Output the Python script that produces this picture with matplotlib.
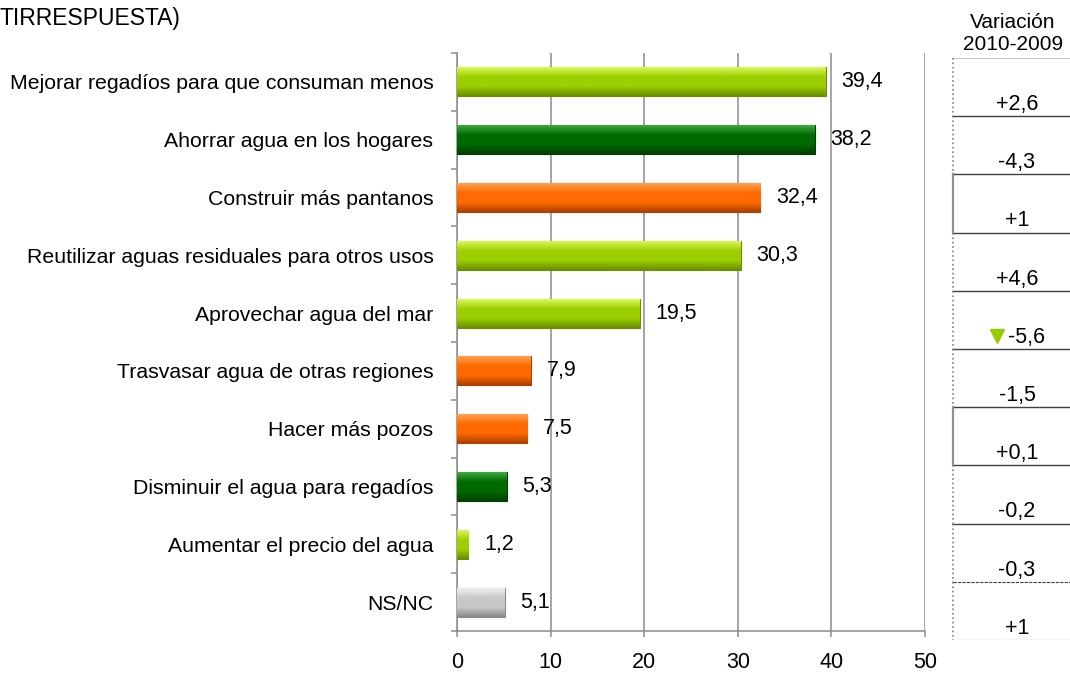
import numpy as np
import matplotlib
matplotlib.use("Agg")
import matplotlib.pyplot as plt
from matplotlib.colors import LinearSegmentedColormap

plt.rcParams['font.family'] = ['Liberation Sans', 'DejaVu Sans']

categories = [
    "Mejorar regadíos para que consuman menos",
    "Ahorrar agua en los hogares",
    "Construir más pantanos",
    "Reutilizar aguas residuales para otros usos",
    "Aprovechar agua del mar",
    "Trasvasar agua de otras regiones",
    "Hacer más pozos",
    "Disminuir el agua para regadíos",
    "Aumentar el precio del agua",
    "NS/NC",
]
values = [39.4, 38.2, 32.4, 30.3, 19.5, 7.9, 7.5, 5.3, 1.2, 5.1]
changes = ["+2,6", "-4,3", "+1", "+4,6", "-5,6", "-1,5", "+0,1", "-0,2", "-0,3", "+1"]
groups = ["lima", "verde", "naranja", "lima", "lima", "naranja", "naranja", "verde", "lima", "gris"]
xticks = [0, 10, 20, 30, 40, 50]

palette = {
    "lima": ("#dcf55a", "#9ccf00", "#6a9000"),
    "verde": ("#3fa83f", "#006a00", "#004000"),
    "naranja": ("#ffa050", "#ff6a00", "#b04000"),
    "gris": ("#f0f0f0", "#c8c8c8", "#8a8a8a"),
}

W, H = 1070, 674
fig = plt.figure(figsize=(W / 100, H / 100), dpi=100)

def box(l, t, r, b):
    return [l / W, 1 - b / H, (r - l) / W, (b - t) / H]

ax = fig.add_axes(box(457, 53, 925, 631))
grey = "#8c8c8c"
pos = np.arange(len(categories))
grad = np.linspace(0, 1, 60).reshape(-1, 1)

for y, v, g in zip(pos, values, groups):
    light, base, dark = palette[g]
    bar = ax.barh(y, v, height=0.5, color=base, edgecolor=dark, linewidth=0.8, zorder=3)[0]
    cmap = LinearSegmentedColormap.from_list(g, [light, base, base, dark])
    im = ax.imshow(grad, extent=[0, v, y + 0.25, y - 0.25], cmap=cmap,
                   aspect="auto", zorder=3.5, interpolation="bilinear")
    im.set_clip_path(bar)
    ax.text(v + 1.7, y, f"{v:.1f}".replace(".", ","), va="center", ha="left",
            fontsize=15.5, zorder=4)

ax.set_xlim(0, 50)
ax.set_ylim(len(categories) - 0.5, -0.5)
ax.set_xticks(xticks)
ax.set_xticklabels([str(t) for t in xticks], fontsize=15.5)
ax.set_yticks(pos)
ax.set_yticklabels(categories, fontsize=15.3)
ax.set_yticks(np.arange(len(categories) + 1) - 0.5, minor=True)
ax.tick_params(axis="y", which="major", length=0, pad=17)
ax.tick_params(axis="y", which="minor", length=4.5, width=1.1, color=grey, direction="out")
ax.tick_params(axis="x", length=4, width=1.1, color=grey, pad=11)
ax.grid(axis="x", color=grey, linewidth=1.1, zorder=0)
ax.set_axisbelow(True)
for s in ["top", "right"]:
    ax.spines[s].set_visible(False)
for s in ["left", "bottom"]:
    ax.spines[s].set_color(grey)
    ax.spines[s].set_linewidth(1.1)

# tabla de variaciones
tb = fig.add_axes(box(953, 58, 1070, 640))
tb.set_xlim(0, 1)
tb.set_ylim(len(changes), 0)
tb.axis("off")
tb.axhline(0, color="#c8c8c8", linewidth=0.8)
for k in range(1, len(changes) - 1):
    tb.axhline(k, color="#404040", linewidth=1.0)
tb.axhline(len(changes) - 1, color="#404040", linewidth=0.8, linestyle=(0, (3, 1)))
tb.axhline(len(changes), color="#808080", linewidth=1.0, linestyle=":")
for k in range(len(changes)):
    if k in (2, 6):
        tb.plot([0, 0], [k, k + 1], color="#909090", linewidth=1.6, clip_on=False)
    else:
        tb.plot([0, 0], [k, k + 1], color="#808080", linewidth=1.2, linestyle=":", clip_on=False)
for k, c in enumerate(changes):
    if c == "-5,6":
        tb.plot(0.376, k + 0.78, marker="v", color="#99cc00", markersize=10)
        tb.text(0.63, k + 0.8, c, ha="center", va="center", fontsize=15.5)
    else:
        tb.text(0.547, k + 0.8, c, ha="center", va="center", fontsize=15.5)

fig.text(1013 / W, 1 - 34 / H, "Variación\n2010-2009", ha="center", va="center",
         fontsize=15, linespacing=1.2)
fig.text(0, 1 - 18 / H, "TIRRESPUESTA)", ha="left", va="center", fontsize=16.5)

fig.savefig("out.png", dpi=100)
